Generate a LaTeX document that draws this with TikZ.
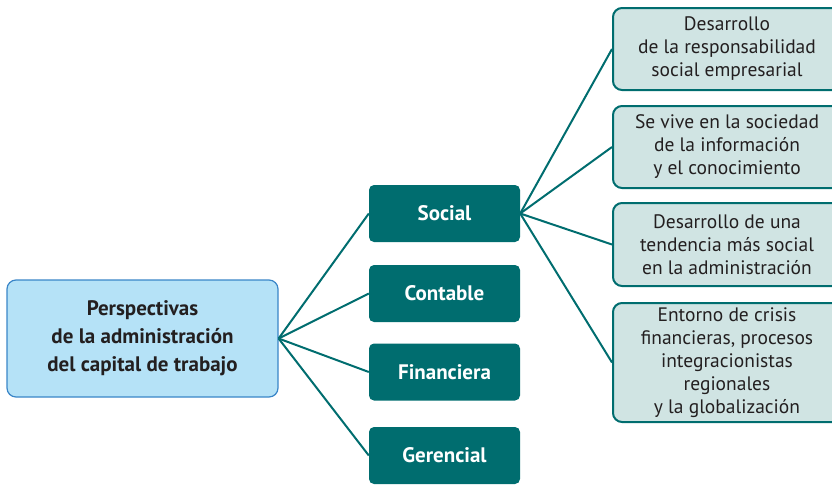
\documentclass[tikz,border=0pt]{standalone}
\usepackage{fontspec}
\setmainfont{PT Sans}
\usetikzlibrary{positioning}
\definecolor{verde}{HTML}{006D6F}
\definecolor{verdeC}{HTML}{D0E4E3}
\definecolor{azulB}{HTML}{3A86C8}
\definecolor{azulC}{HTML}{B5E2F7}
\definecolor{tinta}{HTML}{231F20}

\begin{document}
\begin{tikzpicture}[x=1pt,y=-1pt,
  raiz/.style={draw=azulB, fill=azulC, line width=1.2pt, rounded corners=9pt, minimum width=271pt, minimum height=117pt, align=center, text=tinta, font=\fontsize{21}{28}\selectfont\bfseries},
  rama/.style={fill=verde, rounded corners=5pt, minimum width=151pt, minimum height=57pt, text=white, font=\fontsize{21}{22}\selectfont\bfseries},
  hoja/.style={draw=verde, fill=verdeC, line width=2pt, rounded corners=9pt, minimum width=228pt, anchor=west, align=center, text=tinta, font=\fontsize{19.5}{23}\selectfont},
  enlace/.style={verde, line width=2pt}]
\useasboundingbox (0,0) rectangle (832,485);

% centro
\node[raiz] (persp) at (142.5,338.5) {Perspectivas\\de la administración\\del capital de trabajo};

% perspectivas
\node[rama] (social) at (444.5,213.5) {Social};
\node[rama] (contable) at (444.5,293.5) {Contable};
\node[rama] (financiera) at (444.5,372) {Financiera};
\node[rama] (gerencial) at (444.5,455.5) {Gerencial};

% rasgos de la perspectiva social
\node[hoja, minimum height=82pt] (h1) at (612,49) {Desarrollo\\de la responsabilidad\\social empresarial};
\node[hoja, minimum height=82pt] (h2) at (612,147) {Se vive en la sociedad\\de la información\\y el conocimiento};
\node[hoja, minimum height=83pt] (h3) at (612,244.5) {Desarrollo de una\\tendencia más social\\en la administración};
\node[hoja, minimum height=119pt] (h4) at (612,362.5) {Entorno de crisis\\financieras, procesos\\integracionistas\\regionales\\y la globalización};

\foreach \r in {social,contable,financiera,gerencial}
  \draw[enlace] (persp.east) -- (\r.west);
\foreach \h in {h1,h2,h3,h4}
  \draw[enlace] (social.east) -- (\h.west);
\end{tikzpicture}
\end{document}
